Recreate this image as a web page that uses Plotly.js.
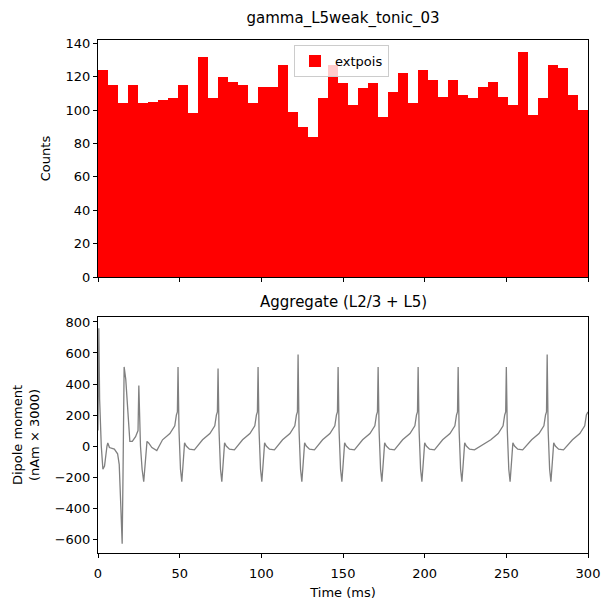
<!DOCTYPE html>
<html>
<head>
<script src="https://cdn.plot.ly/plotly-3.0.1.min.js"></script>
<style>body{margin:0}</style>
</head>
<body>
<div id="myDiv" style="width:611px;height:611px"></div>
<script>
// histogram of extpois input, 49 bins over 0-300 ms
var counts = [124, 115, 104, 115, 104, 105, 106, 107, 115, 98, 132, 107, 120, 117, 115, 104, 114, 114, 127, 99,
    90, 84, 107, 127, 116, 103, 113, 116, 96, 111, 122, 104, 124, 118, 108, 118, 109, 107, 114, 117,
    108, 103, 135, 97, 107, 127, 125, 109, 100];
var binWidth = 300 / counts.length;

// aggregate dipole (nAm x 3000)
var dipoleT = [0, 0.5, 1, 2, 3, 4, 5.5, 6, 7, 10, 12, 13, 14, 14.8, 15.3, 15.6, 16, 17, 18.5, 19.5, 21, 23, 24.5, 25, 26, 27, 28, 29, 30, 31, 33, 36,
    39.5, 44, 47, 48, 48.6, 49, 49.6, 50.5, 51.3, 52.2, 53, 54, 56, 59,
    64, 68.5, 71.5, 72.5, 73.1, 73.5, 74.1, 75, 75.8, 76.7, 77.5, 78.5, 80.5, 83.5,
    88.5, 93, 96, 97, 97.6, 98, 98.6, 99.5, 100.3, 101.2, 102, 103, 105, 108,
    113, 117.5, 120.5, 121.5, 122.1, 122.5, 123.1, 124, 124.8, 125.7, 126.5, 127.5, 129.5, 132.5,
    137.5, 142, 145, 146, 146.6, 147, 147.6, 148.5, 149.3, 150.2, 151, 152, 154, 157,
    162, 166.5, 169.5, 170.5, 171.1, 171.5, 172.1, 173, 173.8, 174.7, 175.5, 176.5, 178.5, 181.5,
    186.5, 191, 194, 195, 195.6, 196, 196.6, 197.5, 198.3, 199.2, 200, 201, 203, 206,
    211, 215.5, 218.5, 219.5, 220.1, 220.5, 221.1, 222, 222.8, 223.7, 224.5, 225.5, 227.5, 230.5,
    240.5, 245, 248, 249, 249.6, 250, 250.6, 251.5, 252.3, 253.2, 254, 255, 257, 260,
    265.5, 270, 273, 274, 274.6, 275, 275.6, 276.5, 277.3, 278.2, 279, 280, 282, 285,
    290.5, 295, 298, 299, 300];
var dipoleY = [100, 760, 300, 0, -150, -130, 0, 20, -10, -20, -50, -120, -400, -630, -200, 200, 510, 430, 150, 30, 30, 60, 100, 390, 0, -150, -230, -100, 30, 20, -10, -30,
    40, 80, 130, 200, 220, 510, 100, -150, -230, -100, 20, 0, -20, -25,
    40, 80, 130, 200, 220, 500, 100, -150, -230, -100, 20, 0, -20, -25,
    40, 80, 130, 200, 220, 510, 100, -150, -230, -100, 20, 0, -20, -25,
    40, 80, 130, 200, 220, 590, 100, -150, -230, -100, 20, 0, -20, -25,
    40, 80, 130, 200, 220, 510, 100, -150, -230, -100, 20, 0, -20, -25,
    40, 80, 130, 200, 220, 510, 100, -150, -230, -100, 20, 0, -20, -25,
    40, 80, 130, 200, 220, 510, 100, -150, -230, -100, 20, 0, -20, -25,
    40, 80, 130, 200, 220, 510, 100, -150, -230, -100, 20, 0, -20, -25,
    40, 80, 130, 200, 220, 510, 100, -150, -230, -100, 20, 0, -20, -25,
    40, 80, 130, 200, 220, 590, 100, -150, -230, -100, 20, 0, -20, -25,
    40, 80, 130, 200, 220];

var binCenters = [];
for (var i = 0; i < counts.length; i++) {
    binCenters.push((i + 0.5) * binWidth);
}

var font = {family: 'DejaVu Sans', size: 13, color: '#000'};

var trace1 = {
    x: binCenters, y: counts, type: 'bar', width: binWidth,
    marker: {color: '#ff0000', line: {width: 0}},
    name: 'extpois', xaxis: 'x', yaxis: 'y'
};
var trace2 = {
    x: dipoleT, y: dipoleY, type: 'scatter', mode: 'lines',
    line: {color: '#808080', width: 1.3}, showlegend: false,
    xaxis: 'x2', yaxis: 'y2'
};

var axisBase = {
    showgrid: false, zeroline: false, showline: true, mirror: true,
    linecolor: '#000', linewidth: 1, ticks: 'outside', ticklen: 4,
    tickcolor: '#000', tickfont: font
};

var layout = {
    width: 611, height: 611,
    margin: {l: 98, r: 23, t: 40, b: 58},
    paper_bgcolor: '#fff', plot_bgcolor: '#fff',
    font: font,
    title: {text: 'gamma_L5weak_tonic_03', font: {family: 'DejaVu Sans', size: 15}, x: 0.5, xref: 'paper', y: 0.98, yref: 'container'},
    bargap: 0,
    showlegend: true,
    legend: {x: 0.4, y: 0.99, xanchor: 'left', yanchor: 'top', bgcolor: 'rgba(255,255,255,0.8)',
        bordercolor: '#ccc', borderwidth: 1, font: font},
    xaxis: Object.assign({}, axisBase, {domain: [0, 1], anchor: 'y', range: [0, 300], showticklabels: false, dtick: 50}),
    yaxis: Object.assign({}, axisBase, {domain: [0.538, 1], range: [0, 142], dtick: 20,
        title: {text: 'Counts', font: font, standoff: 12}}),
    xaxis2: Object.assign({}, axisBase, {domain: [0, 1], anchor: 'y2', range: [0, 300], dtick: 50,
        ticklabelstandoff: 4,
        title: {text: 'Time (ms)', font: font, standoff: 8}}),
    yaxis2: Object.assign({}, axisBase, {domain: [0, 0.46], anchor: 'x2', range: [-690, 832], dtick: 200,
        title: {text: 'Dipole moment<br>(nAm × 3000)', font: font, standoff: 12}}),
    annotations: [{text: 'Aggregate (L2/3 + L5)', xref: 'paper', yref: 'paper', x: 0.5, y: 0.46,
        yshift: 4, xanchor: 'center', yanchor: 'bottom', showarrow: false,
        font: {family: 'DejaVu Sans', size: 15}}]
};

Plotly.newPlot('myDiv', [trace1, trace2], layout, {displayModeBar: false});
</script>
</body>
</html>
